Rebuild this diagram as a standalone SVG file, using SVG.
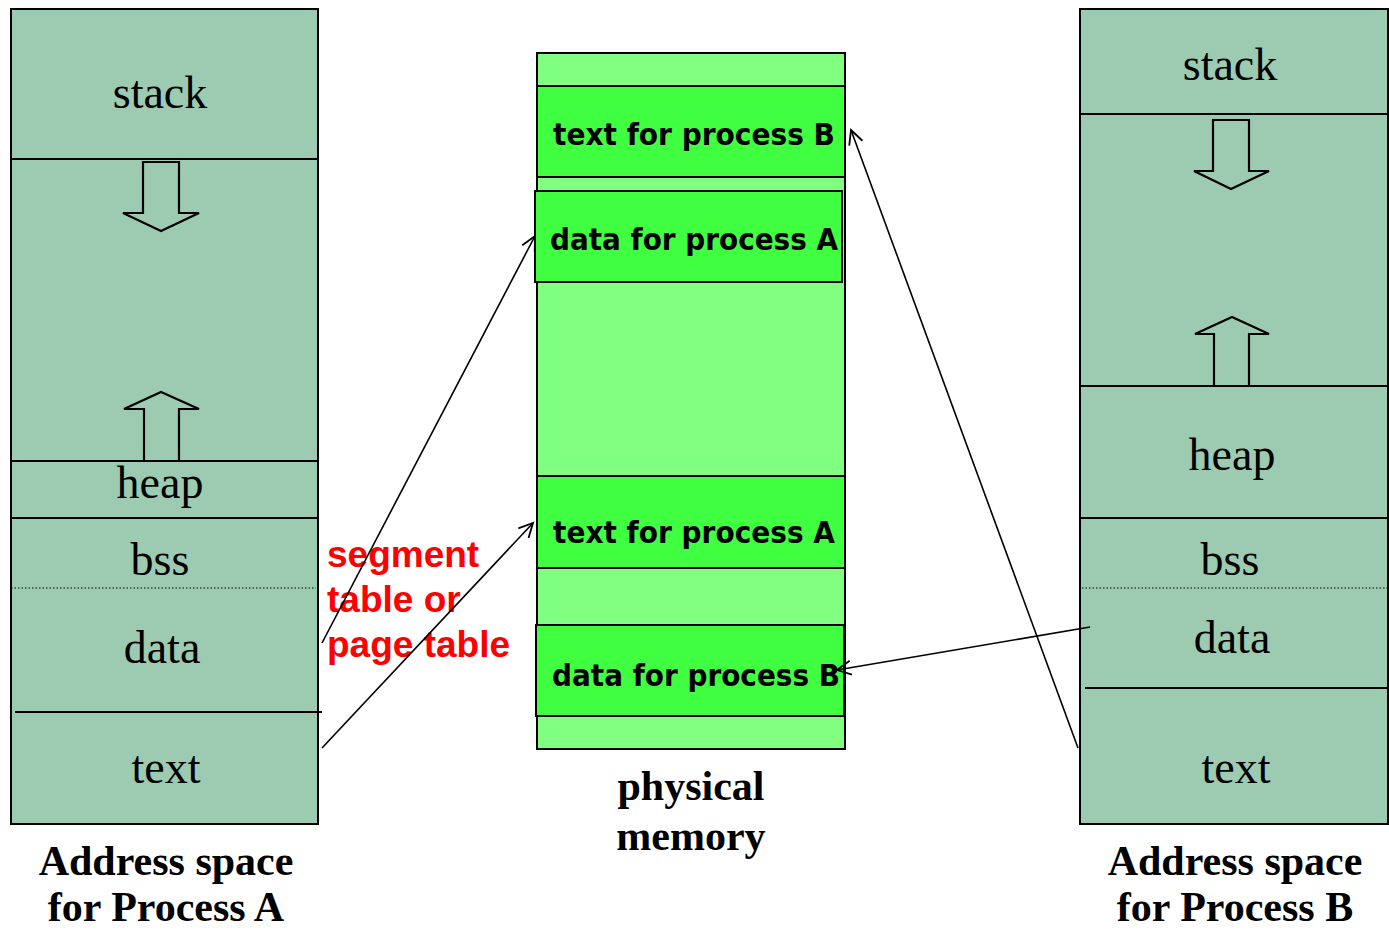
<svg xmlns="http://www.w3.org/2000/svg" width="1389" height="931" viewBox="0 0 1389 931">
<style>
.col{fill:#9ccbb2;stroke:#000;stroke-width:2}
.ln{stroke:#000;stroke-width:2;fill:none}
.dot{stroke:#000;stroke-width:1;stroke-dasharray:1.5 2;fill:none}
.bigarrow{fill:none;stroke:#000;stroke-width:2.2;stroke-linejoin:miter}
.seg{font-family:"Liberation Serif","Times New Roman",serif;font-size:46px;fill:#000;text-anchor:middle}
.cap{font-family:"Liberation Serif","Times New Roman",serif;font-size:42px;font-weight:bold;fill:#000;text-anchor:middle}
.mem{fill:#80ff80;stroke:#000;stroke-width:2}
.blk{fill:#40ff40;stroke:#000;stroke-width:2}
.bt{font-family:"DejaVu Sans",Verdana,sans-serif;font-size:31px;font-weight:bold;fill:#000}
.red{font-family:"Liberation Sans",Arial,sans-serif;font-size:37px;font-weight:bold;fill:#ff0000}
.conn{stroke:#000;stroke-width:1.6;fill:none}
</style>
<defs>
<marker id="oa" markerUnits="userSpaceOnUse" markerWidth="20" markerHeight="20" viewBox="0 0 20 20" refX="16" refY="10" orient="auto">
<path d="M2,3 L16,10 L2,17" fill="none" stroke="#000" stroke-width="1.8"/>
</marker>
</defs>

<g id="processA">
<rect class="col" x="11" y="9" width="307" height="815"/>
<line class="ln" x1="11" y1="159" x2="318" y2="159"/>
<line class="ln" x1="11" y1="461" x2="318" y2="461"/>
<line class="ln" x1="11" y1="518" x2="318" y2="518"/>
<line class="dot" x1="11" y1="588" x2="316" y2="588"/>
<line class="ln" x1="15" y1="712" x2="322" y2="712"/>
<path class="bigarrow" d="M143,162 L179,162 L179,213 L199,213 L161,231 L123,213 L143,213 Z"/>
<path class="bigarrow" d="M144,461 L144,409 L124,409 L161,392 L199,409 L179,409 L179,461"/>
<text class="seg" x="160" y="108">stack</text>
<text class="seg" x="160" y="498">heap</text>
<text class="seg" x="160" y="575">bss</text>
<text class="seg" x="162" y="663">data</text>
<text class="seg" x="166" y="783">text</text>
<text class="cap" x="166" y="875">Address space</text>
<text class="cap" x="166" y="921">for Process A</text>
</g>

<g id="physical">
<rect class="mem" x="537" y="53" width="308" height="696"/>
<rect class="blk" x="537" y="86" width="308" height="91"/>
<rect class="blk" x="535" y="191" width="307" height="91"/>
<rect class="blk" x="537" y="476" width="308" height="92"/>
<rect class="blk" x="536" y="625" width="308" height="91"/>
<text class="bt" x="553" y="145" textLength="282" lengthAdjust="spacingAndGlyphs">text for process B</text>
<text class="bt" x="550" y="250" textLength="288" lengthAdjust="spacingAndGlyphs">data for process A</text>
<text class="bt" x="553" y="543" textLength="282" lengthAdjust="spacingAndGlyphs">text for process A</text>
<text class="bt" x="552" y="686" textLength="288" lengthAdjust="spacingAndGlyphs">data for process B</text>
<text class="cap" x="691" y="800">physical</text>
<text class="cap" x="691" y="850">memory</text>
</g>

<g id="processB">
<rect class="col" x="1080" y="9" width="308" height="815"/>
<line class="ln" x1="1080" y1="114" x2="1388" y2="114"/>
<line class="ln" x1="1080" y1="386" x2="1388" y2="386"/>
<line class="ln" x1="1080" y1="518" x2="1388" y2="518"/>
<line class="dot" x1="1082" y1="588" x2="1388" y2="588"/>
<line class="ln" x1="1085" y1="688" x2="1388" y2="688"/>
<path class="bigarrow" d="M1213,120 L1249,120 L1249,171 L1269,171 L1231,189 L1194,171 L1213,171 Z"/>
<path class="bigarrow" d="M1214,386 L1214,334 L1195,334 L1232,317 L1269,334 L1249,334 L1249,386"/>
<text class="seg" x="1230" y="80">stack</text>
<text class="seg" x="1232" y="470">heap</text>
<text class="seg" x="1230" y="575">bss</text>
<text class="seg" x="1232" y="653">data</text>
<text class="seg" x="1236" y="783">text</text>
<text class="cap" x="1235" y="875">Address space</text>
<text class="cap" x="1235" y="921">for Process B</text>
</g>

<g id="label">
<text class="red" x="327" y="567">segment</text>
<text class="red" x="327" y="612">table or</text>
<text class="red" x="327" y="657">page table</text>
</g>

<g id="connectors">
<line class="conn" x1="322" y1="643" x2="535" y2="236" marker-end="url(#oa)"/>
<line class="conn" x1="322" y1="748" x2="533" y2="523" marker-end="url(#oa)"/>
<line class="conn" x1="1078" y1="748" x2="851" y2="130" marker-end="url(#oa)"/>
<line class="conn" x1="1090" y1="627" x2="837" y2="670" marker-end="url(#oa)"/>
</g>
</svg>
